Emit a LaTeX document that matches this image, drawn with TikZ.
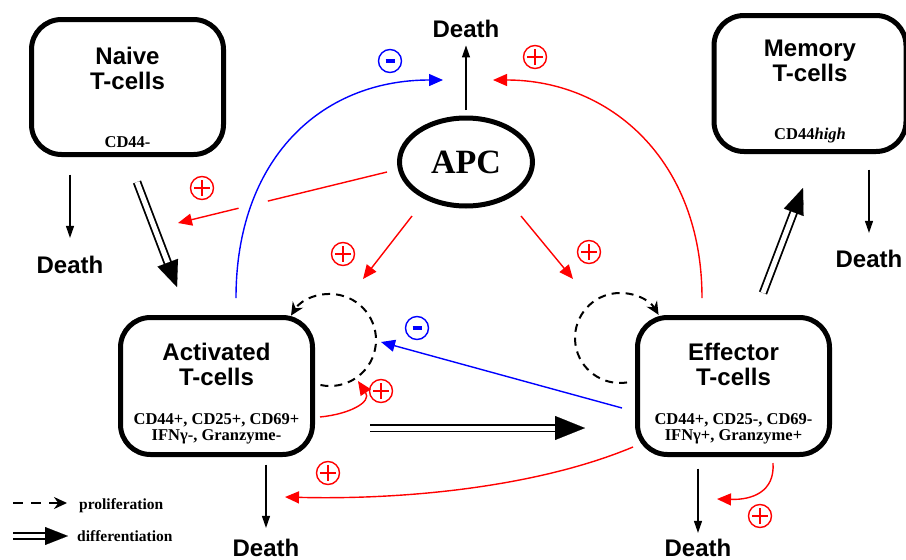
\documentclass[tikz,border=0pt]{standalone}
\usepackage{fontspec}
\setmainfont{Liberation Serif}
\setsansfont{Liberation Sans}
\usetikzlibrary{arrows.meta,shapes.geometric,positioning,calc}
\tikzset{
  cell/.style={draw, line width=5pt, rounded corners=30pt, minimum width=192pt, minimum height=136pt},
  title/.style={font=\fontsize{24}{25}\selectfont\sffamily\bfseries, align=center, inner sep=0pt},
  marker/.style={font=\fontsize{16.5}{16.5}\selectfont\bfseries, align=center, inner sep=0pt},
  death/.style={font=\fontsize{24}{25}\selectfont\sffamily\bfseries, inner sep=0pt, anchor=base},
  legendtext/.style={font=\fontsize{15.5}{16}\selectfont\bfseries, inner sep=0pt, anchor=base west},
  die/.style={line width=1.2pt, -{Triangle[length=12pt,width=8pt]}},
  act/.style={red, line width=1.4pt, -{Triangle[length=14pt,width=12pt]}},
  inh/.style={blue, line width=1.4pt, -{Triangle[length=14pt,width=12pt]}},
  prolif/.style={dash pattern=on 8pt off 6pt, line width=2pt, -{Stealth[length=13pt,width=12pt]}},
  diff/.style={double, double distance=5pt, line width=1.8pt},
  diffhead/.style 2 args={line width=0.1pt, -{Triangle[length=#1,width=#2]}},
  plus/.style={circle, draw=red, line width=1.4pt, minimum size=23pt, inner sep=0pt,
    path picture={\draw[red, line width=1.4pt]
      ([xshift=3.5pt]path picture bounding box.west) -- ([xshift=-3.5pt]path picture bounding box.east)
      ([yshift=-3.5pt]path picture bounding box.north) -- ([yshift=3.5pt]path picture bounding box.south);}},
  minus/.style={circle, draw=blue, line width=1.4pt, minimum size=23pt, inner sep=0pt,
    path picture={\draw[blue, line width=3.5pt]
      ([xshift=7pt]path picture bounding box.west) -- ([xshift=-7pt]path picture bounding box.east);}}
}
\begin{document}
\begin{tikzpicture}[x=1pt,y=-1pt]
\useasboundingbox (0,0) rectangle (906,560);
\node[cell, minimum height=135pt] (naive) at (127.5,87) {};
\node[cell] (mem) at (810,83.5) {};
\node[cell, minimum height=137pt] (act) at (216.5,386) {};
\node[cell, minimum height=137pt] (eff) at (733.5,386) {};
\node[draw, ellipse, line width=5pt, minimum width=133pt, minimum height=88pt,
  font=\fontsize{34}{36}\selectfont\bfseries] (apc) at (466,162) {APC};

\node[title] at ([yshift=-51pt]naive.north) {Naive\\T-cells};
\node[title] at ([yshift=-48pt]mem.north) {Memory\\T-cells};
\node[title] at ([yshift=-49pt]act.north) {Activated\\T-cells};
\node[title] at ([yshift=-49pt]eff.north) {Effector\\T-cells};
\node[marker] at ([yshift=15pt]naive.south) {CD44-};
\node[marker] at ([yshift=18.5pt]mem.south) {CD44\textit{high}};
\node[marker] at ([yshift=28pt]act.south) {CD44+, CD25+, CD69+\\IFNγ-, Granzyme-};
\node[marker] at ([yshift=28pt]eff.south) {CD44+, CD25-, CD69-\\IFNγ+, Granzyme+};

\node[death] (dTop) at (466,37) {Death};
\node[death] (dNaive) at (70,273) {Death};
\node[death] (dMem) at (869,267) {Death};
\node[death] (dAct) at (266,556) {Death};
\node[death] (dEff) at (698,556) {Death};

\draw[die, shorten <=5.5pt, shorten >=8pt] (apc.north) -- (dTop.south);
\draw[die, shorten <=17.5pt, shorten >=17.5pt] (naive.south -| dNaive.north) -- (dNaive.north);
\draw[die, shorten <=15.5pt, shorten >=16.5pt] (mem.south -| dMem.north) -- (dMem.north);
\draw[die, shorten <=7.5pt, shorten >=10.5pt] (act.south -| dAct.north) -- (dAct.north);
\draw[die, shorten <=11.5pt, shorten >=5.5pt] (eff.south -| dEff.north) -- (dEff.north);

\coordinate (nS) at (137,182); \coordinate (nT) at (177,287);
\coordinate (aS) at (370,428); \coordinate (aT) at (585,428);
\coordinate (eS) at (763,293); \coordinate (eT) at (803,188);
\draw[diff, shorten >=22pt] (nS) -- (nT);
\draw[diffhead={26pt}{22pt}] ($(nT)!26pt!(nS)$) -- (nT);
\draw[diff, shorten >=26pt] (aS) -- (aT);
\draw[diffhead={30pt}{24pt}] ($(aT)!30pt!(aS)$) -- (aT);
\draw[diff, shorten >=22pt] (eS) -- (eT);
\draw[diffhead={26pt}{21pt}] ($(eT)!26pt!(eS)$) -- (eT);

\draw[prolif] ([shift={(102:46)}]330,340) arc[start angle=102, end angle=-148, radius=46];
\draw[prolif] ([shift={(81:45)}]620,338) arc[start angle=81, end angle=329, radius=45];

\draw[inh] (236,298) .. controls (236,160) and (320,80) .. (443,80);
\draw[act] (702,298) .. controls (702,160) and (610,80) .. (493,80);
\draw[act] (387,172) -- ($(387,172)!0.57!(178,223)$) ($(387,172)!0.71!(178,223)$) -- (178,223);
\draw[act] (412,216) -- (363,279);
\draw[act] (521,216) -- (573,279);
\draw[inh] (622,408) -- (381,342);
\draw[act] (320,417) .. controls (350,414) and (372,402) .. (358,381);
\draw[act] (633,447) .. controls (535,488) and (400,500) .. (285,497);
\draw[act] (773,463) .. controls (775,492) and (752,500) .. (717,499);

\node[minus] (m1) at (390,61) {};
\node[minus] (m2) at (417,328) {};
\node[plus] (p1) at (535,57) {};
\node[plus] (p2) at (202,188) {};
\node[plus] (p3) at (343,254) {};
\node[plus] (p4) at (589,252) {};
\node[plus] (p5) at (381,391) {};
\node[plus] (p6) at (328,473) {};
\node[plus] (p7) at (760,516) {};

\coordinate (l1a) at (13,503); \coordinate (l1b) at (67,503);
\coordinate (l2a) at (13,536); \coordinate (l2b) at (68,536);
\draw[prolif, dash pattern=on 10pt off 8pt] (l1a) -- (l1b);
\draw[diff, double distance=4pt, shorten >=19pt] (l2a) -- (l2b);
\draw[diffhead={23pt}{18pt}] ($(l2b)!23pt!(l2a)$) -- (l2b);
\node[legendtext] at (79,509) {proliferation};
\node[legendtext] at (77,541) {differentiation};
\end{tikzpicture}
\end{document}
